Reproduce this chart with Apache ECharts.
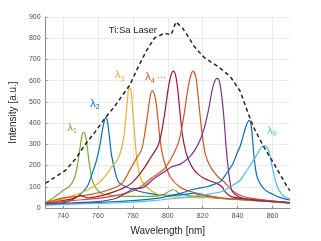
<!DOCTYPE html>
<html><head><meta charset="utf-8">
<script src="https://cdn.jsdelivr.net/npm/echarts@6/dist/echarts.min.js"></script>
<style>html,body{margin:0;padding:0;background:#fff}#c{width:321px;height:241px}</style>
</head><body><div id="c"></div>
<script>
// ---- data ----
const xTicks = [740, 760, 780, 800, 820, 840, 860];
const lambda1 = [[730,26],[734,45],[738,70],[741,88],[744,105],[746.5,140],[748,190],[749.5,270],[750.7,335],[751.7,358],[752.7,345],[753.7,300],[755,210],[756.5,140],[758.4,100],[760.5,78],[763,66],[768,60],[775,55],[782,55],[790,55],[797,62],[801,80],[803.5,86],[806,72],[812,58],[820,52],[830,45],[845,38],[860,30],[870,24]];
const lambda2 = [[730,18],[738,22],[744,35],[749,58],[753.8,100],[756.6,160],[759,220],[761,290],[762.6,370],[763.8,415],[764.6,427],[765.5,405],[766.5,340],[767.6,260],[769,200],[770.5,150],[772,120],[776,100],[783,80],[790,68],[800,60],[808,62],[815,70],[818,62],[830,48],[845,38],[860,30],[870,24]];
const lambda3 = [[730,22],[738,38],[747,62],[754,85],[761,122],[765,160],[768,195],[771,225],[773,265],[774.5,320],[775.7,400],[776.8,500],[777.8,565],[778.8,560],[779.8,470],[780.7,380],[782,250],[783.5,170],[785,130],[788.4,94],[794,66],[800,55],[810,50],[820,48],[826,52],[832,45],[840,40],[855,32],[870,22]];
const lambda4 = [[730,25],[740,48],[748,55],[756,64],[766,85],[773.6,115],[779,190],[782.5,240],[785,275],[787,360],[788.6,450],[789.8,520],[791,553],[792.2,540],[793.4,490],[794.6,400],[795.6,320],[797,250],[798.5,205],[801.9,140],[807.5,95],[812,80],[818,68],[830,48],[845,38],[860,30],[870,24]];
const lambda5 = [[730,22],[740,35],[746,45],[750,58],[754,48],[760,55],[766,68],[772,85],[776,100],[779.2,117],[783,150],[787,195],[790,235],[794.3,292],[796.5,360],[798.5,460],[800.2,560],[801.8,625],[803.2,645],[804.5,625],[805.8,550],[807,450],[808.3,350],[810.4,262],[812.5,215],[815.1,178],[818,155],[820.7,140],[825,125],[828.3,115],[831,100],[833,75],[836,55],[842,45],[855,36],[870,26]];
const lambda6 = [[730,22],[745,35],[760,45],[772,62],[780,80],[784.9,102],[790.6,140],[795,165],[798.1,186],[802.8,246],[806.6,322],[809.4,444],[811.3,550],[813,620],[814.5,645],[816,620],[817,555],[818.2,460],[819.2,380],[820.5,300],[821.7,248],[824,200],[826.4,170],[829,145],[832,125],[835,100],[838,75],[842,58],[848,45],[858,35],[870,25]];
const lambda7 = [[730,20],[745,24],[760,30],[770,45],[776,70],[780,90],[786,97],[792,138],[797,165],[802,193],[807.5,208],[813,246],[816,280],[818.5,320],[821,380],[823.5,470],[825.5,560],[827,600],[828.3,611],[829.6,595],[831,520],[832.3,410],[833.3,300],[834.3,210],[835.5,130],[836.8,80],[840,55],[845,42],[855,34],[870,24]];
const lambda8 = [[730,16],[745,20],[760,26],[775,32],[790,42],[800,55],[808,70],[813,85],[817,92],[822,100],[826,110],[830.2,125],[833,155],[835.5,185],[837.7,216],[839.8,260],[841.5,292],[843.2,340],[844.8,385],[846.6,413],[847.5,400],[848.3,350],[849.1,270],[850,200],[850.9,155],[852.5,120],[854.7,94],[857,78],[860.3,64],[864,50],[867.9,41],[870,38]];
const lambda9 = [[730,14],[745,18],[760,22],[775,26],[790,34],[804,45],[815,55],[822.6,64],[828,72],[832,80],[835,95],[837.7,109],[841.5,132],[845.3,178],[849,223],[851,250],[852.8,277],[854.3,290],[855.6,293],[856.7,288],[857.7,270],[858.7,240],[859.5,205],[860.5,170],[861.3,140],[862.5,105],[864.1,79],[866,60],[867.9,49],[870,42]];
const tiSaLaser = [[730,117],[735.8,147],[741.5,178],[747.1,231],[752.8,300],[758.5,360],[763.2,414],[769.8,482],[778.3,580],[783,664],[787.7,740],[792.4,801],[798.1,824],[801.9,816],[804.7,877],[808.5,847],[812.2,801],[815,763],[820.7,710],[829.2,664],[835.8,619],[841.5,550],[844.5,480],[849,383],[854.7,292],[860.3,216],[868.8,94],[870,82]];

const curves = [lambda1, lambda2, lambda3, lambda4, lambda5, lambda6, lambda7, lambda8, lambda9];
const curveColors = ['#77AC30','#0072BD','#EDB120','#D95319','#A2142F','#D95319','#7E2F8E','#0072BD','#4DBEEE'];

// annotation texts and anchors (data coords)
const annTexts = ['1','2','3','4','9'];
const annSuffix = ['', '', '', ' \u00b7\u00b7\u00b7', ''];
const annColors = ['#77AC30','#0072BD','#EDB120','#D95319','#4DBEEE'];
const annAnchors = [[745.3,378],[758.3,492],[772.4,625],[793.0,616],[859.6,365]];
const laserLabel = 'Ti:Sa Laser';
const laserAnchor = [766.2, 839];

const chart = echarts.init(document.getElementById('c'), null, {renderer:'canvas'});
const font = 'Liberation Sans, Arial, Helvetica, sans-serif';
const series = curves.map((d,i)=>({
  type:'line', data:d, showSymbol:false, smooth:0.3, z:2,
  lineStyle:{color:curveColors[i], width:1.2}, itemStyle:{color:curveColors[i]}, silent:true, animation:false
}));
series.push({type:'line', data:tiSaLaser, showSymbol:false, smooth:false, z:3,
  lineStyle:{color:'#262626', width:1.5, type:[4,3]}, silent:true, animation:false});

chart.setOption({
  animation:false,
  grid:{left:43, right:31, top:17, bottom:27},
  xAxis:{type:'value', min:730, max:870,
    name:'Wavelength [nm]', nameLocation:'middle', nameGap:18,
    nameTextStyle:{fontFamily:font, fontSize:10, color:'#262626'},
    axisLine:{show:true, lineStyle:{color:'#8c8c8c', width:1}},
    axisTick:{show:true, inside:true, length:2, customValues:xTicks, lineStyle:{color:'#8c8c8c'}},
    axisLabel:{customValues:xTicks, fontFamily:font, fontSize:7, color:'#4d4d4d', margin:5},
    splitLine:{show:true, lineStyle:{color:'#ebebeb', width:1}}
  },
  yAxis:{type:'value', min:0, max:900, interval:100,
    name:'Intensity [a.u.]', nameLocation:'middle', nameGap:26,
    nameTextStyle:{fontFamily:font, fontSize:10, color:'#262626'},
    axisLine:{show:true, lineStyle:{color:'#8c8c8c', width:1}},
    axisTick:{show:true, inside:true, length:2, lineStyle:{color:'#8c8c8c'}},
    axisLabel:{fontFamily:font, fontSize:7, color:'#4d4d4d', margin:5},
    splitLine:{show:true, lineStyle:{color:'#ebebeb', width:1}}
  },
  series:series
});

const graphics = annTexts.map((t,i)=>{
  const p = chart.convertToPixel({gridIndex:0}, annAnchors[i]);
  return {type:'text', x:p[0], y:p[1], z:10, silent:true,
    style:{text:'{l|\u03bb}{s|'+t+'}'+(annSuffix[i]?'{d|'+annSuffix[i]+'}':''),
      fill:annColors[i], align:'center', verticalAlign:'middle',
      rich:{l:{fontFamily:font, fontSize:11, fill:annColors[i]},
            s:{fontFamily:font, fontSize:7, fill:annColors[i], padding:[7,0,0,0]},
            d:{fontFamily:font, fontSize:9, fill:annColors[i]}}}};
});
const lp = chart.convertToPixel({gridIndex:0}, laserAnchor);
graphics.push({type:'text', x:lp[0], y:lp[1], z:10, silent:true,
  style:{text:laserLabel, fill:'#262626', font:'9.5px '+font, align:'left', verticalAlign:'middle'}});
chart.setOption({graphic:graphics});
</script></body></html>
